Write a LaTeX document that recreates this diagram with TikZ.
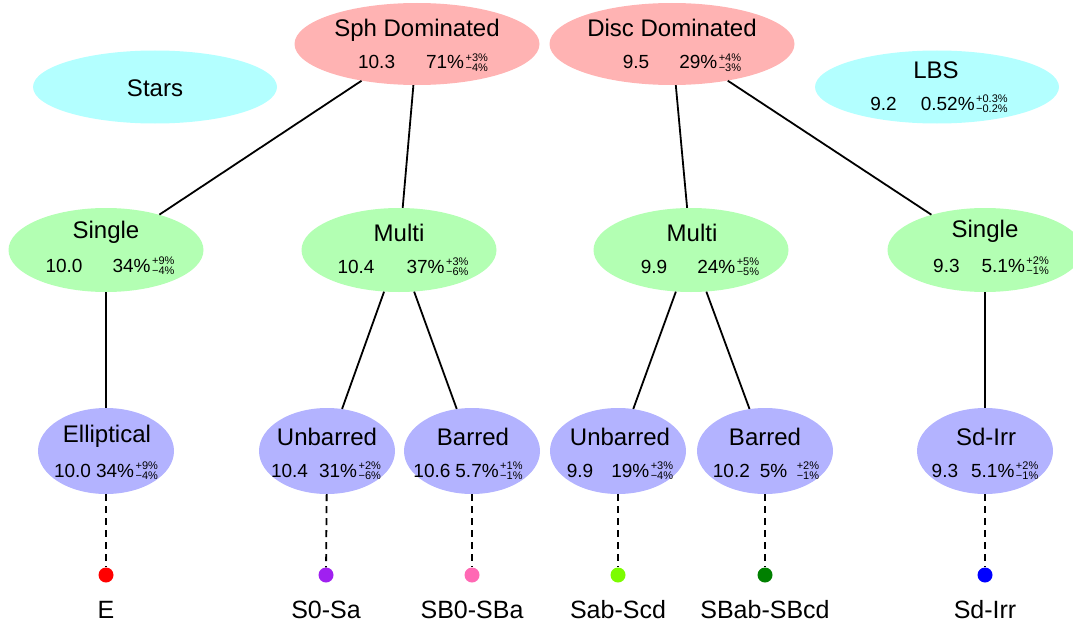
\documentclass[tikz,border=0pt]{standalone}
\usepackage{fontspec}
\setmainfont{Liberation Sans}
\usetikzlibrary{shapes.geometric}
\definecolor{pinkc}{HTML}{FFB3B3}
\definecolor{cyanc}{HTML}{B3FFFF}
\definecolor{greenc}{HTML}{B3FFB3}
\definecolor{bluec}{HTML}{B3B3FF}
\definecolor{dotE}{HTML}{FF0000}
\definecolor{dotSa}{HTML}{A020F0}
\definecolor{dotSBa}{HTML}{FF69B4}
\definecolor{dotScd}{HTML}{7CFC00}
\definecolor{dotSBcd}{HTML}{008000}
\definecolor{dotIrr}{HTML}{0000FF}
\newcommand\errs[2]{\hspace{1.5pt}\makebox[0pt][l]{\raisebox{7.6pt}{\fontsize{11}{12}\selectfont #1}}\raisebox{-2.3pt}{\fontsize{11}{12}\selectfont #2}}
\tikzset{
  ellbase/.style={ellipse, inner sep=0pt, draw=none},
  pinkel/.style={ellbase, fill=pinkc, minimum width=245pt, minimum height=82pt},
  cyanel/.style={ellbase, fill=cyanc, minimum width=244pt, minimum height=73pt},
  greenel/.style={ellbase, fill=greenc, minimum width=195pt, minimum height=84pt},
  blueel/.style={ellbase, fill=bluec, minimum width=136pt, minimum height=86pt},
  nm/.style={anchor=base, inner sep=0pt, font=\fontsize{24}{28}\selectfont},
  st/.style={anchor=base, inner sep=0pt, font=\fontsize{19}{22}\selectfont},
  lbl/.style={anchor=base, inner sep=0pt, font=\fontsize{25}{30}\selectfont},
  edgeline/.style={line width=1.8pt, black},
  dashline/.style={line width=1.8pt, black, dash pattern=on 7pt off 5pt},
  dotnode/.style={circle, inner sep=0pt, minimum size=15pt}
}
\begin{document}
\begin{tikzpicture}[x=1pt,y=-1pt]
\useasboundingbox (0,0) rectangle (1073,626);
% ellipses
\node[pinkel] (sph) at (417,44) {};
\node[pinkel] (disc) at (672,44) {};
\node[cyanel] (stars) at (155,87) {};
\node[cyanel] (lbs) at (937,87) {};
\node[greenel] (singleL) at (106,250) {};
\node[greenel] (multiL) at (399,250) {};
\node[greenel] (multiR) at (691,250) {};
\node[greenel] (singleR) at (985,250) {};
\node[blueel] (ell) at (106,451) {};
\node[blueel] (unbL) at (327,451) {};
\node[blueel] (barL) at (472,451) {};
\node[blueel] (unbR) at (618,451) {};
\node[blueel] (barR) at (765,451) {};
\node[blueel] (sdirr) at (985,451) {};
% texts
\node[nm] (sphN) at (417,37) {Sph Dominated};
\node[st] (sphS) at (423,69) {10.3\hspace{31pt}71\%\errs{+3\%}{−4\%}};
\node[nm] (discN) at (672,37) {Disc Dominated};
\node[st] (discS) at (682,69) {9.5\hspace{30pt}29\%\errs{+4\%}{−3\%}};
\node[nm] (starsN) at (155,96) {Stars};
\node[nm] (lbsN) at (936,78) {LBS};
\node[st] (lbsS) at (939,110) {9.2\hspace{24pt}0.52\%\errs{+0.3\%}{−0.2\%}};
\node[nm] (singleLN) at (106,238) {Single};
\node[st] (singleLS) at (110,272) {10.0\hspace{30pt}34\%\errs{+9\%}{−4\%}};
\node[nm] (multiLN) at (399,241) {Multi};
\node[st] (multiLS) at (403,273) {10.4\hspace{32pt}37\%\errs{+3\%}{−6\%}};
\node[nm] (multiRN) at (692,241) {Multi};
\node[st] (multiRS) at (700,273) {9.9\hspace{30pt}24\%\errs{+5\%}{−5\%}};
\node[nm] (singleRN) at (985,237) {Single};
\node[st] (singleRS) at (991,272) {9.3\hspace{22pt}5.1\%\errs{+2\%}{−1\%}};
\node[nm] (ellN) at (107,442) {Elliptical};
\node[st] (ellS) at (106,477) {10.0\hspace{5pt}34\%\errs{+9\%}{−4\%}};
\node[nm] (unbLN) at (327,445) {Unbarred};
\node[st] (unbLS) at (326,477) {10.4\hspace{11pt}31\%\errs{+2\%}{−6\%}};
\node[nm] (barLN) at (473,445) {Barred};
\node[st] (barLS) at (468,477) {10.6\hspace{5pt}5.7\%\errs{+1\%}{−1\%}};
\node[nm] (unbRN) at (620,445) {Unbarred};
\node[st] (unbRS) at (620,477) {9.9\hspace{18pt}19\%\errs{+3\%}{−4\%}};
\node[nm] (barRN) at (765,445) {Barred};
\node[st] (barRS) at (766,477) {10.2\hspace{10pt}5\%\hspace{8pt}\errs{+2\%}{−1\%}};
\node[nm] (sdirrN) at (986,445) {Sd-Irr};
\node[st] (sdirrS) at (985,477) {9.3\hspace{13pt}5.1\%\errs{+2\%}{−1\%}};
% tree edges
\draw[edgeline] (sph) -- (singleL);
\draw[edgeline] (sph) -- (multiL);
\draw[edgeline] (disc) -- (multiR);
\draw[edgeline] (disc) -- (singleR);
\draw[edgeline] (singleL) -- (ell);
\draw[edgeline] (multiL) -- (unbL);
\draw[edgeline] (multiL) -- (barL);
\draw[edgeline] (multiR) -- (unbR);
\draw[edgeline] (multiR) -- (barR);
\draw[edgeline] (singleR) -- (sdirr);
% dots
\node[dotnode, fill=dotE] (dE) at (106,575) {};
\node[dotnode, fill=dotSa] (dSa) at (326,575) {};
\node[dotnode, fill=dotSBa] (dSBa) at (472,575) {};
\node[dotnode, fill=dotScd] (dScd) at (618,575) {};
\node[dotnode, fill=dotSBcd] (dSBcd) at (765,575) {};
\node[dotnode, fill=dotIrr] (dIrr) at (985,575) {};
\draw[dashline] (ell) -- (dE);
\draw[dashline] (unbL) -- (dSa);
\draw[dashline] (barL) -- (dSBa);
\draw[dashline] (unbR) -- (dScd);
\draw[dashline] (barR) -- (dSBcd);
\draw[dashline] (sdirr) -- (dIrr);
% labels
\node[lbl] (lE) at (106,618) {E};
\node[lbl] (lSa) at (326,618) {S0-Sa};
\node[lbl] (lSBa) at (472,618) {SB0-SBa};
\node[lbl] (lScd) at (618,618) {Sab-Scd};
\node[lbl] (lSBcd) at (765,618) {SBab-SBcd};
\node[lbl] (lIrr) at (985,618) {Sd-Irr};
\end{tikzpicture}
\end{document}
